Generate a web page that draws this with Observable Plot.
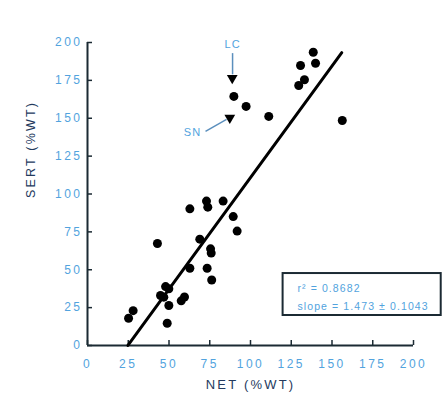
<!DOCTYPE html>
<html><head><meta charset="utf-8">
<script src="https://cdn.jsdelivr.net/npm/d3@7"></script>
<script src="https://cdn.jsdelivr.net/npm/@observablehq/plot@0.6"></script>
<style>
body{margin:0;background:#fff}
#chart{width:445px;height:405px}
#chart g[aria-label$="tick label"] text{letter-spacing:2.5px}
</style>
</head><body><div id="chart"></div>
<script>
// NET (%WT) vs SERT (%WT)
const netX  = [25.2, 28.0, 42.9, 44.8, 46.8, 47.9, 49.9, 49.9, 48.9, 57.5, 59.5, 62.8, 62.8, 68.9, 73.4, 76.2, 75.5, 75.9, 73.0, 73.8, 83.2, 89.4, 91.8, 89.8, 97.3, 111.2, 138.5, 139.9, 130.7, 133.1, 129.6, 156.3];
const sertY = [18.0, 23.0, 67.3, 33.0, 31.9, 38.9, 37.4, 26.4, 14.7, 29.5, 32.0, 51.0, 90.2, 70.2, 51.0, 43.2, 63.8, 61.0, 95.3, 91.3, 95.3, 85.1, 75.5, 164.4, 157.8, 151.2, 193.6, 186.3, 184.8, 175.4, 171.6, 148.5];
const xTicks = [0, 25, 50, 75, 100, 125, 150, 175, 200];
const yTicks = [0, 25, 50, 75, 100, 125, 150, 175, 200];
const xTitle = "NET (%WT)";
const yTitle = "SERT (%WT)";
// regression line
const slope = 1.473, intercept = -36.5;
const fitX = [24.8, 156];
const statLines = ["r\u00B2 = 0.8682", "slope = 1.473 \u00B1 0.1043"];
// annotations
const annotNames = ["LC", "SN"];
const annotLabelX = [89, 64.4];
const annotLabelY = [198.5, 140.6];
const annotFromX = [89, 72.4];
const annotFromY = [193, 141.3];
const annotToX = [89, 85.3];
const annotToY = [179, 149.2];
const annotHeadX = [88.8, 87.3];
const annotHeadY = [176.5, 150.3];

const pts = netX.map((x, i) => ({x, y: sertY[i]}));
const fit = fitX.map(x => ({x, y: slope * x + intercept}));
const annots = annotNames.map((name, i) => ({
  name, lx: annotLabelX[i], ly: annotLabelY[i],
  x1: annotFromX[i], y1: annotFromY[i], x2: annotToX[i], y2: annotToY[i],
  hx: annotHeadX[i], hy: annotHeadY[i]
}));

const tickBlue = "#52a3de";
const titleCol = "#243a5e";
const axisCol = "#1b2a33";

const chart = Plot.plot({
  width: 445, height: 405,
  marginLeft: 87, marginRight: 32, marginTop: 42, marginBottom: 60,
  x: {domain: [0, 200], label: null},
  y: {domain: [0, 200], label: null},
  style: {fontFamily: "Liberation Sans, Arial, sans-serif", background: "#fff"},
  marks: [
    Plot.axisX({ticks: xTicks, tickSize: 0, tickPadding: 14, fill: tickBlue, fontSize: 12, label: null}),
    Plot.axisX({ticks: xTicks, tickSize: 5, dy: -5, text: null, stroke: axisCol, strokeWidth: 1.5, label: null}),
    Plot.axisY({ticks: yTicks, tickSize: 0, tickPadding: 5, fill: tickBlue, fontSize: 12, label: null}),
    Plot.axisY({ticks: yTicks, tickSize: 5, dx: 5, text: null, stroke: axisCol, strokeWidth: 1.5, label: null}),
    Plot.ruleX([0], {stroke: axisCol, strokeWidth: 2}),
    Plot.ruleY([0], {stroke: axisCol, strokeWidth: 2}),
    Plot.text([yTitle], {frameAnchor: "left", dx: -57, dy: 4, rotate: -90, text: d => d, fill: titleCol, fontSize: 12.5}),
    Plot.text([xTitle], {frameAnchor: "bottom", dy: 43, text: d => d, fill: titleCol, fontSize: 13}),
    Plot.line(fit, {x: "x", y: "y", stroke: "#000", strokeWidth: 3}),
    Plot.dot(pts, {x: "x", y: "y", r: 4.5, fill: "#000"}),
    Plot.link(annots, {x1: "x1", y1: "y1", x2: "x2", y2: "y2", stroke: "#5b8fbd", strokeWidth: 1.5}),
    Plot.dot(annots, {x: "hx", y: "hy", symbol: "triangle", r: 4, fill: "#000", rotate: 180}),
    Plot.text(annots, {x: "lx", y: "ly", text: "name", fill: tickBlue, fontSize: 11}),
    Plot.rect([0], {x1: 120, x2: 217, y1: 19.8, y2: 47.5, fill: "none", stroke: axisCol, strokeWidth: 2}),
    Plot.text(statLines, {x: 128.8, y: (d, i) => [37.6, 25.7][i], text: d => d, textAnchor: "start", fill: tickBlue, fontSize: 10.5})
  ]
});
// letter spacing for the wide-set lettering of the original
const spacing = new Map([[xTitle, "2.2px"], [yTitle, "2.2px"], [statLines[0], "1.1px"], [statLines[1], "1.1px"], ["LC", "1px"], ["SN", "1px"]]);
d3.select(chart).selectAll("text").each(function () {
  const s = spacing.get(this.textContent);
  if (s) this.style.letterSpacing = s;
});
document.getElementById("chart").appendChild(chart);
</script>
</body></html>
